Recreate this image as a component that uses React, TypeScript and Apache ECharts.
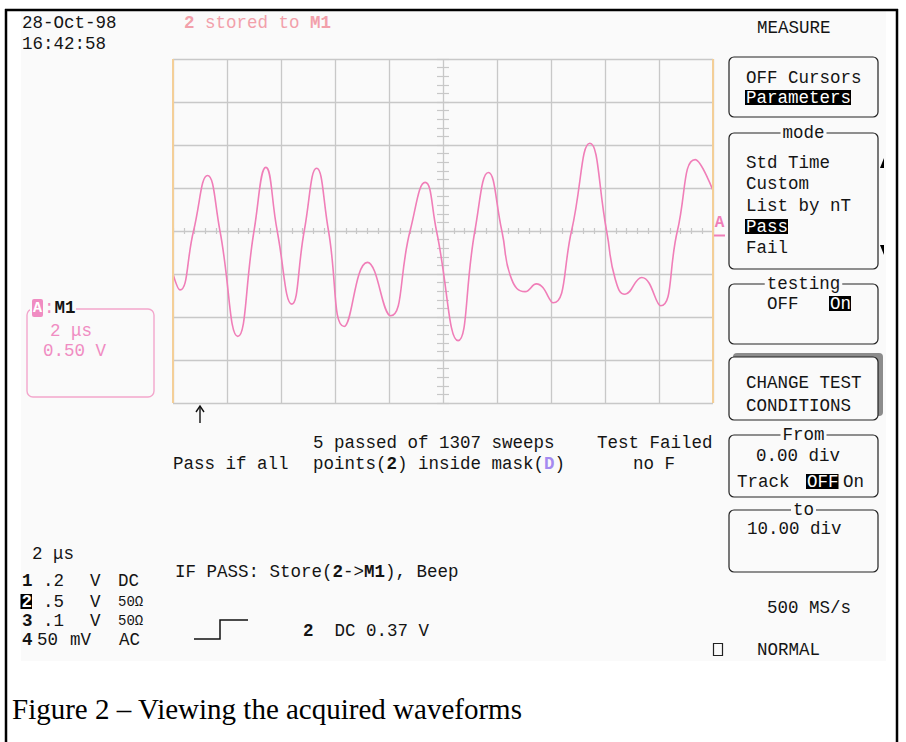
import React, { useEffect, useRef } from "react";
import * as echarts from "echarts";

// Trace A (M1): time in divisions (2 µs/div) and amplitude in divisions (0.50 V/div)
const traceTimeDiv = [
  0.0, 0.13, 0.38, 0.64, 0.87, 1.2, 1.5, 1.72, 1.93, 2.2, 2.43,
  2.66, 2.88, 3.17, 3.6, 4.03, 4.39, 4.67, 4.88, 5.28, 5.59, 5.84,
  6.09, 6.27, 6.52, 6.73, 7.04, 7.38, 7.72, 8.03, 8.19, 8.37, 8.68, 9.03, 9.34, 9.67, 10.0,
];
const traceAmpDiv = [
  -1.0, -1.37, 0.0, 1.29, 0.0, -2.45, 0.0, 1.48, 0.0, -1.7, 0.0,
  1.46, 0.0, -2.22, -0.73, -1.97, 0.0, 1.13, 0.0, -2.55, 0.0, 1.36,
  0.0, -1.12, -1.41, -1.23, -1.67, 0.0, 2.04, 0.0, -1.12, -1.47, -1.08, -1.74, 0.0, 1.66, 0.94,
];
// Test window limits (divisions)
const testFromDiv = 0.0;
const testToDiv = 10.0;

const MONO = '"Liberation Mono", "DejaVu Sans Mono", monospace';
const FS = 17.5;
const BG = "#FAFAFA";
const INK = "#141414";
const PINK = "#F07EB8";
const SALMON = "#F2A0AA";
const LPINK = "#F08CC2";
const GRIDC = "#C8C8C8";
const ORANGE = "#F4CF98";

type Seg = [string, any?];

function seg(x0: number, y: number, parts: Seg[], extra: any = {}) {
  const out: any[] = [];
  let x = x0;
  for (const [text, o0] of parts) {
    const o = o0 || {};
    const size = o.size ?? extra.size ?? FS;
    const w = text.length * (size * 0.6);
    if (o.inv) {
      out.push({
        type: "rect",
        z: 6,
        shape: { x: x - 1, y: y - 8, width: w + 1, height: 15 },
        style: { fill: o.invColor ?? "#000" },
      });
    }
    out.push({
      type: "text",
      x,
      y,
      z: 7,
      style: {
        text,
        fontFamily: MONO,
        fontSize: size,
        fontWeight: o.bold ? "bold" : "normal",
        fill: o.inv ? "#fff" : o.color ?? extra.color ?? INK,
        align: "left",
        textAlign: "left",
        verticalAlign: "middle",
        textVerticalAlign: "middle",
      },
    });
    x += w;
  }
  return out;
}

function box(x: number, y: number, w: number, h: number, title?: string) {
  const out: any[] = [
    {
      type: "rect",
      z: 4,
      shape: { x, y, width: w, height: h, r: 5 },
      style: { fill: BG, stroke: "#222", lineWidth: 1.2 },
    },
  ];
  if (title) {
    out.push({
      type: "text",
      x: x + w / 2,
      y,
      z: 7,
      style: {
        text: title,
        fontFamily: MONO,
        fontSize: FS,
        fill: INK,
        align: "center",
        textAlign: "center",
        verticalAlign: "middle",
        textVerticalAlign: "middle",
        backgroundColor: BG,
        padding: [0, 2],
      },
    });
  }
  return out;
}

export default function App() {
  const ref = useRef<HTMLDivElement>(null);

  useEffect(() => {
    if (!ref.current) return;
    const chart = echarts.init(ref.current, null, { renderer: "svg" });

    const data = traceTimeDiv.map((t, i) => [t, traceAmpDiv[i]]);
    const tickStyle = { color: GRIDC, width: 1.2 };

    const hideAll = {
      axisLine: { show: false },
      axisLabel: { show: false },
      splitLine: { show: false },
    };

    const graphics: any[] = [
      // screen background
      { type: "rect", z: -10, shape: { x: 21, y: 11, width: 865, height: 650 }, style: { fill: BG } },
      // outer frame
      { type: "line", z: 20, shape: { x1: 5, y1: 10, x2: 898, y2: 10 }, style: { stroke: "#000", lineWidth: 2.5 } },
      { type: "line", z: 20, shape: { x1: 6, y1: 9, x2: 6, y2: 745 }, style: { stroke: "#000", lineWidth: 2.5 } },
      { type: "line", z: 20, shape: { x1: 897, y1: 9, x2: 897, y2: 745 }, style: { stroke: "#000", lineWidth: 2.5 } },

      // top-left date/time
      ...seg(22, 23, [["28-Oct-98"]]),
      ...seg(22, 44, [["16:42:58"]]),
      ...seg(184, 23, [["2", { bold: true }], [" stored to "], ["M1", { bold: true }]], { color: SALMON }),

      // right menu
      ...seg(757, 28, [["MEASURE"]]),
      ...box(729, 57, 149, 60),
      ...seg(746, 78, [["OFF Cursors"]]),
      ...seg(746, 98, [["Parameters", { inv: true }]]),
      ...box(729, 133, 149, 136, "mode"),
      ...seg(746, 163, [["Std Time"]]),
      ...seg(746, 184, [["Custom"]]),
      ...seg(746, 206, [["List by nT"]]),
      ...seg(746, 227, [["Pass", { inv: true }]]),
      ...seg(746, 248, [["Fail"]]),
      { type: "polygon", z: 8, shape: { points: [[880, 168], [884, 168], [884, 158]] }, style: { fill: "#000" } },
      { type: "polygon", z: 8, shape: { points: [[880, 245], [884, 245], [884, 255]] }, style: { fill: "#000" } },
      ...box(729, 284, 149, 60, "testing"),
      ...seg(767, 304, [["OFF"], ["   "], ["On", { inv: true }]]),
      { type: "rect", z: 3, shape: { x: 733, y: 353, width: 150, height: 63, r: 4 }, style: { fill: "#8c8c8c" } },
      ...box(729, 357, 149, 63),
      ...seg(746, 383, [["CHANGE TEST"]]),
      ...seg(746, 406, [["CONDITIONS"]]),
      ...box(729, 435, 149, 62, "From"),
      ...seg(756, 456, [["0.00 div"]]),
      ...seg(737, 482, [["Track"]]),
      ...seg(807, 482, [["OFF", { inv: true }]]),
      ...seg(843, 482, [["On"]]),
      ...box(729, 510, 149, 62, "to"),
      ...seg(747, 529, [["10.00 div"]]),
      ...seg(767, 608, [["500 MS/s"]]),
      { type: "rect", z: 8, shape: { x: 713.5, y: 643.5, width: 9, height: 12 }, style: { fill: "none", stroke: "#222", lineWidth: 1.2 } },
      ...seg(757, 650, [["NORMAL"]]),

      // trace label at right edge of grid
      {
        type: "text",
        x: 719.5,
        y: 223,
        z: 8,
        style: {
          text: "A",
          fontFamily: MONO,
          fontSize: 16,
          fontWeight: "bold",
          fill: PINK,
          align: "center",
          textAlign: "center",
          verticalAlign: "middle",
          textVerticalAlign: "middle",
        },
      },
      { type: "line", z: 8, shape: { x1: 714, y1: 235.5, x2: 725, y2: 235.5 }, style: { stroke: PINK, lineWidth: 2 } },

      // trigger arrow
      { type: "line", z: 8, shape: { x1: 200, y1: 407, x2: 200, y2: 423 }, style: { stroke: "#111", lineWidth: 1.4 } },
      { type: "polyline", z: 8, shape: { points: [[196, 412], [200, 406], [204, 412]] }, style: { stroke: "#111", lineWidth: 1.4, fill: "none" } },

      // test status
      ...seg(313, 443, [["5 passed of 1307 sweeps"]]),
      ...seg(597, 443, [["Test Failed"]]),
      ...seg(173, 464, [["Pass if all"]]),
      ...seg(313, 464, [["points("], ["2", { bold: true }], [") inside mask("], ["D", { bold: true, color: "#A58AF0" }], [")"]]),
      ...seg(633, 464, [["no F"]]),

      // left trace box
      { type: "rect", z: 4, shape: { x: 27, y: 309, width: 127, height: 88, r: 6 }, style: { fill: "none", stroke: "#F3A6CC", lineWidth: 1.4 } },
      { type: "rect", z: 5, shape: { x: 30, y: 299, width: 46, height: 18 }, style: { fill: BG } },
      { type: "rect", z: 6, shape: { x: 32, y: 299, width: 11, height: 18, r: 2 }, style: { fill: LPINK } },
      {
        type: "text",
        x: 37.5,
        y: 308,
        z: 7,
        style: {
          text: "A",
          fontFamily: MONO,
          fontSize: 15,
          fontWeight: "bold",
          fill: "#fff",
          align: "center",
          textAlign: "center",
          verticalAlign: "middle",
          textVerticalAlign: "middle",
        },
      },
      ...seg(44, 308, [[":", { color: LPINK }], ["M1", { bold: true }]]),
      ...seg(50, 331, [["2 μs"]], { color: LPINK }),
      ...seg(43, 351, [["0.50 V"]], { color: LPINK }),

      // bottom-left timebase / channel settings
      ...seg(32, 554, [["2 μs"]]),
      ...seg(22, 581, [["1", { bold: true }]]),
      ...seg(43, 581, [[".2"]]),
      ...seg(90, 581, [["V"]]),
      ...seg(118, 581, [["DC"]]),
      ...seg(21.5, 602, [["2", { bold: true, inv: true }]]),
      ...seg(43, 602, [[".5"]]),
      ...seg(90, 602, [["V"]]),
      ...seg(118, 602, [["50Ω", { size: 14 }]]),
      ...seg(22, 621, [["3", { bold: true }]]),
      ...seg(43, 621, [[".1"]]),
      ...seg(90, 621, [["V"]]),
      ...seg(118, 621, [["50Ω", { size: 14 }]]),
      ...seg(22, 640, [["4", { bold: true }]]),
      ...seg(37, 640, [["50"]]),
      ...seg(70, 640, [["mV"]]),
      ...seg(119, 640, [["AC"]]),

      // pass action / trigger
      ...seg(175, 572, [["IF PASS: Store("], ["2", { bold: true }], ["->"], ["M1", { bold: true }], ["), Beep"]]),
      { type: "polyline", z: 8, shape: { points: [[194, 639], [220, 639], [220, 620], [248, 620]] }, style: { stroke: "#111", lineWidth: 1.5, fill: "none" } },
      ...seg(303, 631, [["2", { bold: true }], ["  DC 0.37 V"]]),

      // caption
      {
        type: "text",
        x: 12,
        y: 709,
        z: 8,
        style: {
          text: "Figure 2 – Viewing the acquired waveforms",
          fontFamily: '"Liberation Serif", "Times New Roman", serif',
          fontSize: 29,
          fill: "#000",
          align: "left",
          textAlign: "left",
          verticalAlign: "middle",
          textVerticalAlign: "middle",
        },
      },
    ];

    chart.setOption({
      animation: false,
      backgroundColor: "#ffffff",
      grid: { left: 173, top: 59, width: 540, height: 344, containLabel: false },
      xAxis: [
        {
          type: "value",
          min: 0,
          max: 10,
          interval: 1,
          axisLine: { show: false },
          axisTick: { show: false },
          axisLabel: { show: false },
          splitLine: { show: true, lineStyle: { color: GRIDC, width: 1.3 } },
        },
        {
          type: "value",
          min: 0,
          max: 10,
          interval: 1,
          position: "bottom",
          offset: -172,
          ...hideAll,
          axisTick: { show: true, inside: true, length: 3, lineStyle: tickStyle },
          minorTick: { show: true, splitNumber: 5, length: 3, lineStyle: tickStyle },
        },
        {
          type: "value",
          min: 0,
          max: 10,
          interval: 1,
          position: "top",
          offset: -172,
          ...hideAll,
          axisTick: { show: true, inside: true, length: 3, lineStyle: tickStyle },
          minorTick: { show: true, splitNumber: 5, length: 3, lineStyle: tickStyle },
        },
      ],
      yAxis: [
        {
          type: "value",
          min: -4,
          max: 4,
          interval: 1,
          axisLine: { show: false },
          axisTick: { show: false },
          axisLabel: { show: false },
          splitLine: { show: true, lineStyle: { color: GRIDC, width: 1.3 } },
        },
        {
          type: "value",
          min: -4,
          max: 4,
          interval: 1,
          position: "left",
          offset: -270,
          ...hideAll,
          axisTick: { show: true, inside: true, length: 6, lineStyle: tickStyle },
          minorTick: { show: true, splitNumber: 5, length: 6, lineStyle: tickStyle },
        },
        {
          type: "value",
          min: -4,
          max: 4,
          interval: 1,
          position: "right",
          offset: -270,
          ...hideAll,
          axisTick: { show: true, inside: true, length: 6, lineStyle: tickStyle },
          minorTick: { show: true, splitNumber: 5, length: 6, lineStyle: tickStyle },
        },
      ],
      series: [
        {
          type: "line",
          xAxisIndex: 0,
          yAxisIndex: 0,
          data,
          showSymbol: false,
          smooth: 0.5,
          lineStyle: { color: PINK, width: 1.6 },
          markLine: {
            silent: true,
            symbol: "none",
            label: { show: false },
            lineStyle: { color: ORANGE, width: 2, type: "solid" },
            data: [{ xAxis: testFromDiv }, { xAxis: testToDiv }],
          },
        },
      ],
      graphic: { elements: graphics },
    });

    return () => chart.dispose();
  }, []);

  return (
    <div
      ref={ref}
      style={{ position: "fixed", left: 0, top: 0, width: 906, height: 742 }}
    />
  );
}
